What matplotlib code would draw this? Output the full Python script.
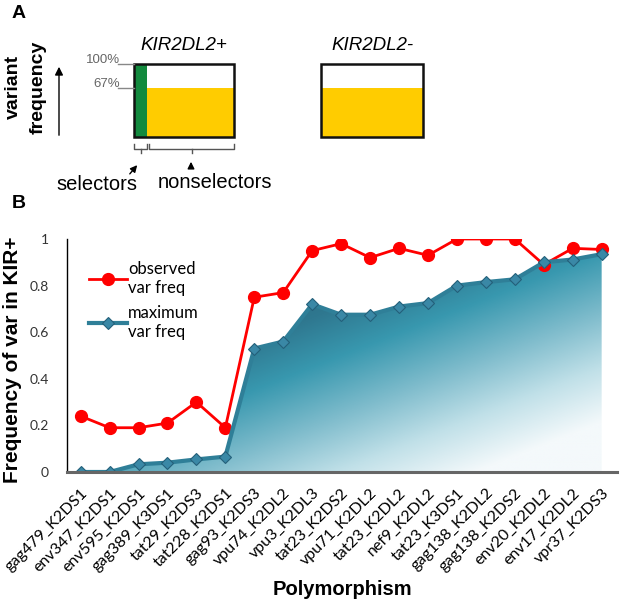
import matplotlib
matplotlib.use("Agg")
import matplotlib.pyplot as plt
from matplotlib.patches import Rectangle
from matplotlib.colors import LinearSegmentedColormap
import numpy as np

# data for panel B
polymorphisms = ["gag479_K2DS1", "env347_K2DS1", "env595_K2DS1", "gag389_K3DS1",
                 "tat29_K2DS3", "tat228_K2DS1", "gag93_K2DS3", "vpu74_K2DL2",
                 "vpu3_K2DL3", "tat23_K2DS2", "vpu71_K2DL2", "tat23_K2DL2",
                 "nef9_K2DL2", "tat23_K3DS1", "gag138_K2DL2", "gag138_K2DS2",
                 "env20_K2DL2", "env17_K2DL2", "vpr37_K2DS3"]
observed = [0.24, 0.19, 0.19, 0.21, 0.30, 0.19, 0.75, 0.77, 0.95, 0.98,
            0.92, 0.96, 0.93, 1.00, 1.00, 1.00, 0.89, 0.96, 0.955]
maximum = [0.0, 0.0, 0.033, 0.04, 0.054, 0.066, 0.53, 0.56, 0.72, 0.675,
           0.675, 0.71, 0.725, 0.80, 0.815, 0.827, 0.90, 0.912, 0.935]
yticks = [0, 0.2, 0.4, 0.6, 0.8, 1]
yticklabels = ["0", "0.2", "0.4", "0.6", "0.8", "1"]

# panel A schematic values
nonsel_freq = 0.67
pct_labels = ["100%", "67%"]

W, H = 620, 602
fig = plt.figure(figsize=(W / 100, H / 100), dpi=100)

# ---------- panel A drawn in pixel coords ----------
pa = fig.add_axes([0, 0, 1, 1])
pa.set_xlim(0, W)
pa.set_ylim(H, 0)
pa.axis("off")

yellow = "#ffcc00"
green = "#138a3e"
box_top, box_bot = 64, 137
yel_top = box_bot - nonsel_freq * (box_bot - box_top)

def schematic_box(x0, x1, green_w=0):
    if green_w:
        pa.add_patch(Rectangle((x0, box_top), green_w, box_bot - box_top, color=green, lw=0))
    pa.add_patch(Rectangle((x0 + green_w, yel_top), x1 - x0 - green_w, box_bot - yel_top,
                           color=yellow, lw=0))
    pa.add_patch(Rectangle((x0, box_top), x1 - x0, box_bot - box_top, fill=False,
                           ec="#111111", lw=1.8))

schematic_box(134, 234, green_w=13)
schematic_box(321, 423)

pa.text(12, 14, "A", fontsize=14, fontweight="bold", family="Liberation Sans", va="center")
pa.text(12, 204, "B", fontsize=14, fontweight="bold", family="Liberation Sans", va="center")
pa.text(184, 45, "KIR2DL2+", fontsize=13.5, style="italic", family="Liberation Sans",
        ha="center", va="center")
pa.text(372, 45, "KIR2DL2-", fontsize=13.5, style="italic", family="Liberation Sans",
        ha="center", va="center")
pa.text(13, 87, "variant", fontsize=14, fontweight="bold", family="Liberation Sans",
        rotation=90, ha="center", va="center")
pa.text(38, 87, "frequency", fontsize=14, fontweight="bold", family="Liberation Sans",
        rotation=90, ha="center", va="center")
pa.annotate("", xy=(59, 64), xytext=(59, 138),
            arrowprops=dict(arrowstyle="-|>", color="black", lw=1, mutation_scale=12))

for lab, yy in zip(pct_labels, [box_top, yel_top]):
    pa.plot([118, 134], [yy, yy], color="#888888", lw=1)
    pa.text(120, yy - 4, lab, fontsize=9.5, color="#666666", family="Liberation Sans",
            ha="right", va="center")

def brace(x0, x1, y=144):
    xm = (x0 + x1) / 2
    pa.plot([x0, x0, x1, x1], [y, y + 5, y + 5, y], color="#555555", lw=1)
    pa.plot([xm, xm], [y + 5, y + 9], color="#555555", lw=1)

brace(134, 147)
brace(149, 234)
pa.annotate("", xy=(139, 163), xytext=(128, 176),
            arrowprops=dict(arrowstyle="-|>", color="black", lw=1, mutation_scale=10))
pa.annotate("", xy=(191, 159), xytext=(191, 168),
            arrowprops=dict(arrowstyle="-|>", color="black", lw=1, mutation_scale=10))
pa.text(97, 184, "selectors", fontsize=14.5, family="Liberation Sans", ha="center", va="center")
pa.text(215, 183, "nonselectors", fontsize=14.5, family="Liberation Sans", ha="center", va="center")

# ---------- panel B ----------
ax = fig.add_axes([67 / W, 1 - 472 / H, 550 / W, 233 / H])
x = np.arange(len(polymorphisms))
ax.set_xlim(-0.47, len(polymorphisms) - 0.47)
ax.set_ylim(0, 1)

# gradient fill under the maximum curve (dark upper-left, fading to white bottom-right)
cmap = LinearSegmentedColormap.from_list(
    "teal", [(0, "#2b687d"), (0.2, "#2f7890"), (0.38, "#3898af"), (0.6, "#7fbccc"),
             (0.8, "#c0e0e8"), (1, "#f4f9fb")])
gx, gy = np.meshgrid(np.linspace(0, 1, 300), np.linspace(0, 1, 300))
t = np.clip(0.75 * gx + 0.85 * gy - 0.42, 0, 1)
poly = ax.fill_between(x, 0, maximum, color="none", lw=0)
img = ax.imshow(t, cmap=cmap, vmin=0, vmax=1, extent=[0, x[-1], 0, 1],
                origin="upper", aspect="auto", zorder=1, interpolation="bilinear")
img.set_clip_path(poly.get_paths()[0], transform=ax.transData)

ax.plot(x, observed, color="#ff0000", lw=2, marker="o", markersize=8.5,
        zorder=3, label="observed\nvar freq")
ax.plot(x, maximum, color="#2f7f98", lw=3, marker="D", markersize=6.5,
        markerfacecolor="#3a88a6", markeredgecolor="#24607a", markeredgewidth=0.8,
        zorder=4, label="maximum\nvar freq")

ax.set_xticks(x)
ax.set_xticklabels(polymorphisms, rotation=45, ha="right", rotation_mode="anchor",
                   fontsize=11.5, family="Lato")
ax.set_yticks(yticks)
ax.set_yticklabels(yticklabels, fontsize=10, family="Lato", color="#333333")
ax.tick_params(length=0)
ax.tick_params(axis="y", pad=13)
ax.tick_params(axis="x", pad=10)

for s in ["top", "right"]:
    ax.spines[s].set_visible(False)
ax.spines["left"].set_color("black")
ax.spines["left"].set_linewidth(1)
ax.spines["bottom"].set_color("#666666")
ax.spines["bottom"].set_linewidth(2.2)
ax.spines["bottom"].set_zorder(5)

ax.set_ylabel("Frequency of var in KIR+", fontsize=15, fontweight="bold",
              family="Liberation Sans")
ax.yaxis.set_label_coords(-0.082, 0.48)
ax.set_xlabel("Polymorphism", fontsize=14.5, fontweight="bold", family="Liberation Sans",
              labelpad=4)

leg = ax.legend(loc="upper left", bbox_to_anchor=(0.04, 0.905), frameon=False,
                prop={"family": "Lato", "size": 12}, handlelength=2.3,
                handletextpad=0.05, labelspacing=0.55, borderaxespad=0, borderpad=0)

fig.savefig("out.png", dpi=100)
